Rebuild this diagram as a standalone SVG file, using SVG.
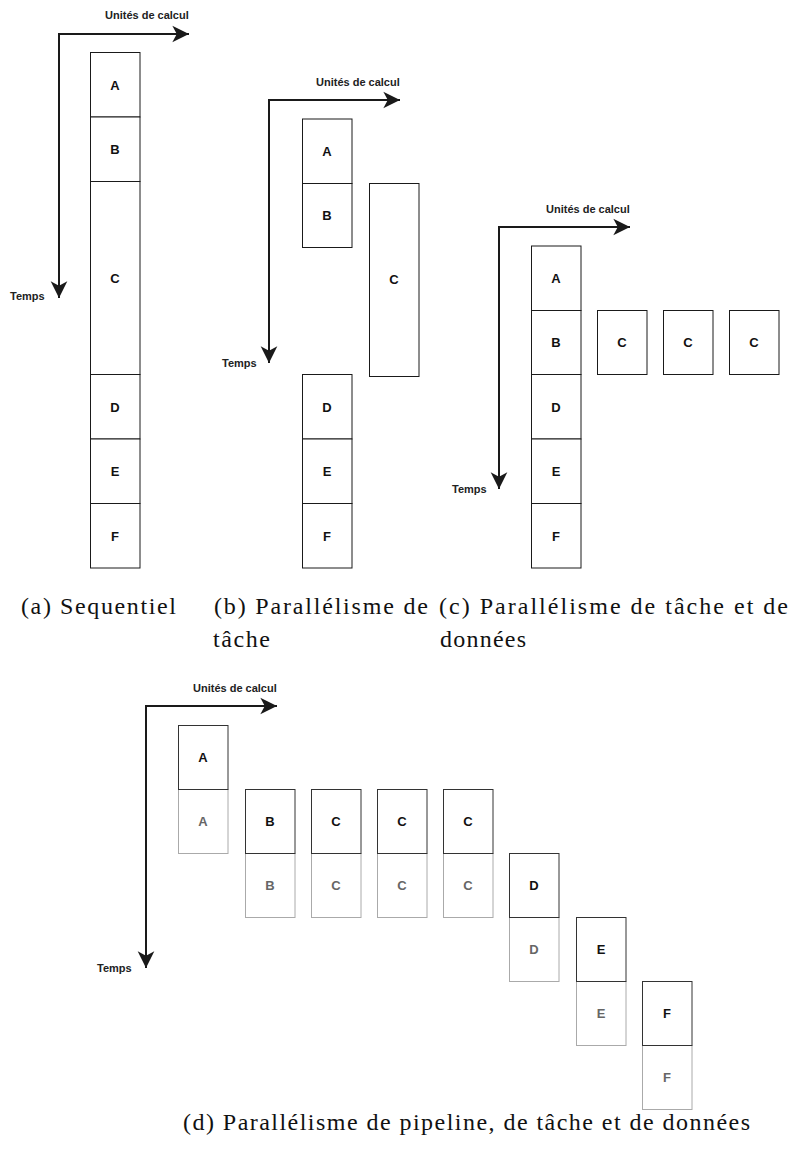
<svg xmlns="http://www.w3.org/2000/svg" width="791" height="1163" viewBox="0 0 791 1163">
<style>
.bx{fill:#fff;stroke:#1a1a1a;stroke-width:1}
.bt{fill:#fff;stroke:#333;stroke-width:1}
.bb{fill:#fff;stroke:#aaa;stroke-width:1}
.lb{font-family:"Liberation Sans",Arial,sans-serif;font-weight:bold;font-size:13px;fill:#111;text-anchor:middle;dominant-baseline:central}
.lg{font-family:"Liberation Sans",Arial,sans-serif;font-weight:bold;font-size:13px;fill:#666;text-anchor:middle;dominant-baseline:central}
.ax{fill:none;stroke:#1a1a1a;stroke-width:2;marker-end:url(#ah)}
.at{font-family:"Liberation Sans",Arial,sans-serif;font-weight:bold;font-size:11px;fill:#222}
.cap{font-family:"Liberation Serif","Times New Roman",serif;font-size:24px;fill:#111}
</style>
<defs>
<marker id="ah" markerUnits="userSpaceOnUse" markerWidth="20" markerHeight="20" viewBox="-16 -9 18 18" refX="0" refY="0" orient="auto">
<path d="M0,0 L-15,-7.5 L-11,0 L-15,7.5 Z" fill="#1a1a1a"/>
</marker>
</defs>
<rect width="791" height="1163" fill="#fff"/>

<g id="connectors">
<path class="ax" d="M59,34 L59,298"/>
<path class="ax" d="M58,34 L189,34"/>
<path class="ax" d="M269,100 L269,363"/>
<path class="ax" d="M268,100 L400,100"/>
<path class="ax" d="M499,227 L499,489"/>
<path class="ax" d="M498,227 L630,227"/>
<path class="ax" d="M146,706 L146,968"/>
<path class="ax" d="M145,706 L277,706"/>
</g>

<g id="axis-labels">
<text class="at" x="105" y="19">Unités de calcul</text>
<text class="at" x="10" y="300">Temps</text>
<text class="at" x="316" y="86">Unités de calcul</text>
<text class="at" x="222" y="367">Temps</text>
<text class="at" x="546" y="213">Unités de calcul</text>
<text class="at" x="452" y="493">Temps</text>
<text class="at" x="193" y="692">Unités de calcul</text>
<text class="at" x="97" y="972">Temps</text>
</g>

<g id="panel-a">
<g id="a-A"><rect class="bx" x="90.5" y="52.5" width="49.5" height="64.5"/><text class="lb" x="115" y="85">A</text></g>
<g id="a-B"><rect class="bx" x="90.5" y="117" width="49.5" height="64.5"/><text class="lb" x="115" y="149">B</text></g>
<g id="a-C"><rect class="bx" x="90.5" y="181.5" width="49.5" height="193"/><text class="lb" x="115" y="278">C</text></g>
<g id="a-D"><rect class="bx" x="90.5" y="374.5" width="49.5" height="64.5"/><text class="lb" x="115" y="407">D</text></g>
<g id="a-E"><rect class="bx" x="90.5" y="439" width="49.5" height="64.5"/><text class="lb" x="115" y="471">E</text></g>
<g id="a-F"><rect class="bx" x="90.5" y="503.5" width="49.5" height="64.5"/><text class="lb" x="115" y="536">F</text></g>
</g>

<g id="panel-b">
<g id="b-A"><rect class="bx" x="302.5" y="119" width="49.5" height="64.5"/><text class="lb" x="327" y="151">A</text></g>
<g id="b-B"><rect class="bx" x="302.5" y="183.5" width="49.5" height="64"/><text class="lb" x="327" y="215">B</text></g>
<g id="b-C"><rect class="bx" x="369.5" y="183.5" width="49.5" height="193"/><text class="lb" x="394" y="279">C</text></g>
<g id="b-D"><rect class="bx" x="302.5" y="374.5" width="49.5" height="64.5"/><text class="lb" x="327" y="407">D</text></g>
<g id="b-E"><rect class="bx" x="302.5" y="439" width="49.5" height="64.5"/><text class="lb" x="327" y="471">E</text></g>
<g id="b-F"><rect class="bx" x="302.5" y="503.5" width="49.5" height="64.5"/><text class="lb" x="327" y="536">F</text></g>
</g>

<g id="panel-c">
<g id="c-A"><rect class="bx" x="531.5" y="246" width="49.5" height="64.5"/><text class="lb" x="556" y="278">A</text></g>
<g id="c-B"><rect class="bx" x="531.5" y="310.5" width="49.5" height="64"/><text class="lb" x="556" y="342">B</text></g>
<g id="c-C1"><rect class="bx" x="597.5" y="310.5" width="49.5" height="64"/><text class="lb" x="622" y="342">C</text></g>
<g id="c-C2"><rect class="bx" x="663.5" y="310.5" width="49.5" height="64"/><text class="lb" x="688" y="342">C</text></g>
<g id="c-C3"><rect class="bx" x="729.5" y="310.5" width="49.5" height="64"/><text class="lb" x="754" y="342">C</text></g>
<g id="c-D"><rect class="bx" x="531.5" y="374.5" width="49.5" height="64.5"/><text class="lb" x="556" y="407">D</text></g>
<g id="c-E"><rect class="bx" x="531.5" y="439" width="49.5" height="64.5"/><text class="lb" x="556" y="471">E</text></g>
<g id="c-F"><rect class="bx" x="531.5" y="503.5" width="49.5" height="64.5"/><text class="lb" x="556" y="536">F</text></g>
</g>

<g id="panel-d">
<g id="d-A"><rect class="bb" x="178.5" y="789.5" width="49.5" height="64"/><rect class="bt" x="178.5" y="725.5" width="49.5" height="64"/><text class="lb" x="203" y="757">A</text><text class="lg" x="203" y="821">A</text></g>
<g id="d-B"><rect class="bb" x="245.5" y="853.5" width="49.5" height="64"/><rect class="bt" x="245.5" y="789.5" width="49.5" height="64"/><text class="lb" x="270" y="821">B</text><text class="lg" x="270" y="885">B</text></g>
<g id="d-C1"><rect class="bb" x="311.5" y="853.5" width="49.5" height="64"/><rect class="bt" x="311.5" y="789.5" width="49.5" height="64"/><text class="lb" x="336" y="821">C</text><text class="lg" x="336" y="885">C</text></g>
<g id="d-C2"><rect class="bb" x="377.5" y="853.5" width="49.5" height="64"/><rect class="bt" x="377.5" y="789.5" width="49.5" height="64"/><text class="lb" x="402" y="821">C</text><text class="lg" x="402" y="885">C</text></g>
<g id="d-C3"><rect class="bb" x="443.5" y="853.5" width="49.5" height="64"/><rect class="bt" x="443.5" y="789.5" width="49.5" height="64"/><text class="lb" x="468" y="821">C</text><text class="lg" x="468" y="885">C</text></g>
<g id="d-D"><rect class="bb" x="509.5" y="917.5" width="49.5" height="64"/><rect class="bt" x="509.5" y="853.5" width="49.5" height="64"/><text class="lb" x="534" y="885">D</text><text class="lg" x="534" y="949">D</text></g>
<g id="d-E"><rect class="bb" x="576.5" y="981.5" width="49.5" height="64"/><rect class="bt" x="576.5" y="917.5" width="49.5" height="64"/><text class="lb" x="601" y="949">E</text><text class="lg" x="601" y="1013">E</text></g>
<g id="d-F"><rect class="bb" x="642.5" y="1045.5" width="49.5" height="64"/><rect class="bt" x="642.5" y="981.5" width="49.5" height="64"/><text class="lb" x="667" y="1013">F</text><text class="lg" x="667" y="1077">F</text></g>
</g>

<g id="captions">
<text class="cap" x="21" y="614" textLength="155" lengthAdjust="spacing">(a) Sequentiel</text>
<text class="cap" x="214" y="614" textLength="214" lengthAdjust="spacing">(b) Parallélisme de</text>
<text class="cap" x="213" y="647" textLength="57" lengthAdjust="spacing">tâche</text>
<text class="cap" x="439" y="614" textLength="349" lengthAdjust="spacing">(c) Parallélisme de tâche et de</text>
<text class="cap" x="440" y="647" textLength="86" lengthAdjust="spacing">données</text>
<text class="cap" x="183" y="1130" textLength="567" lengthAdjust="spacing">(d) Parallélisme de pipeline, de tâche et de données</text>
</g>
</svg>
